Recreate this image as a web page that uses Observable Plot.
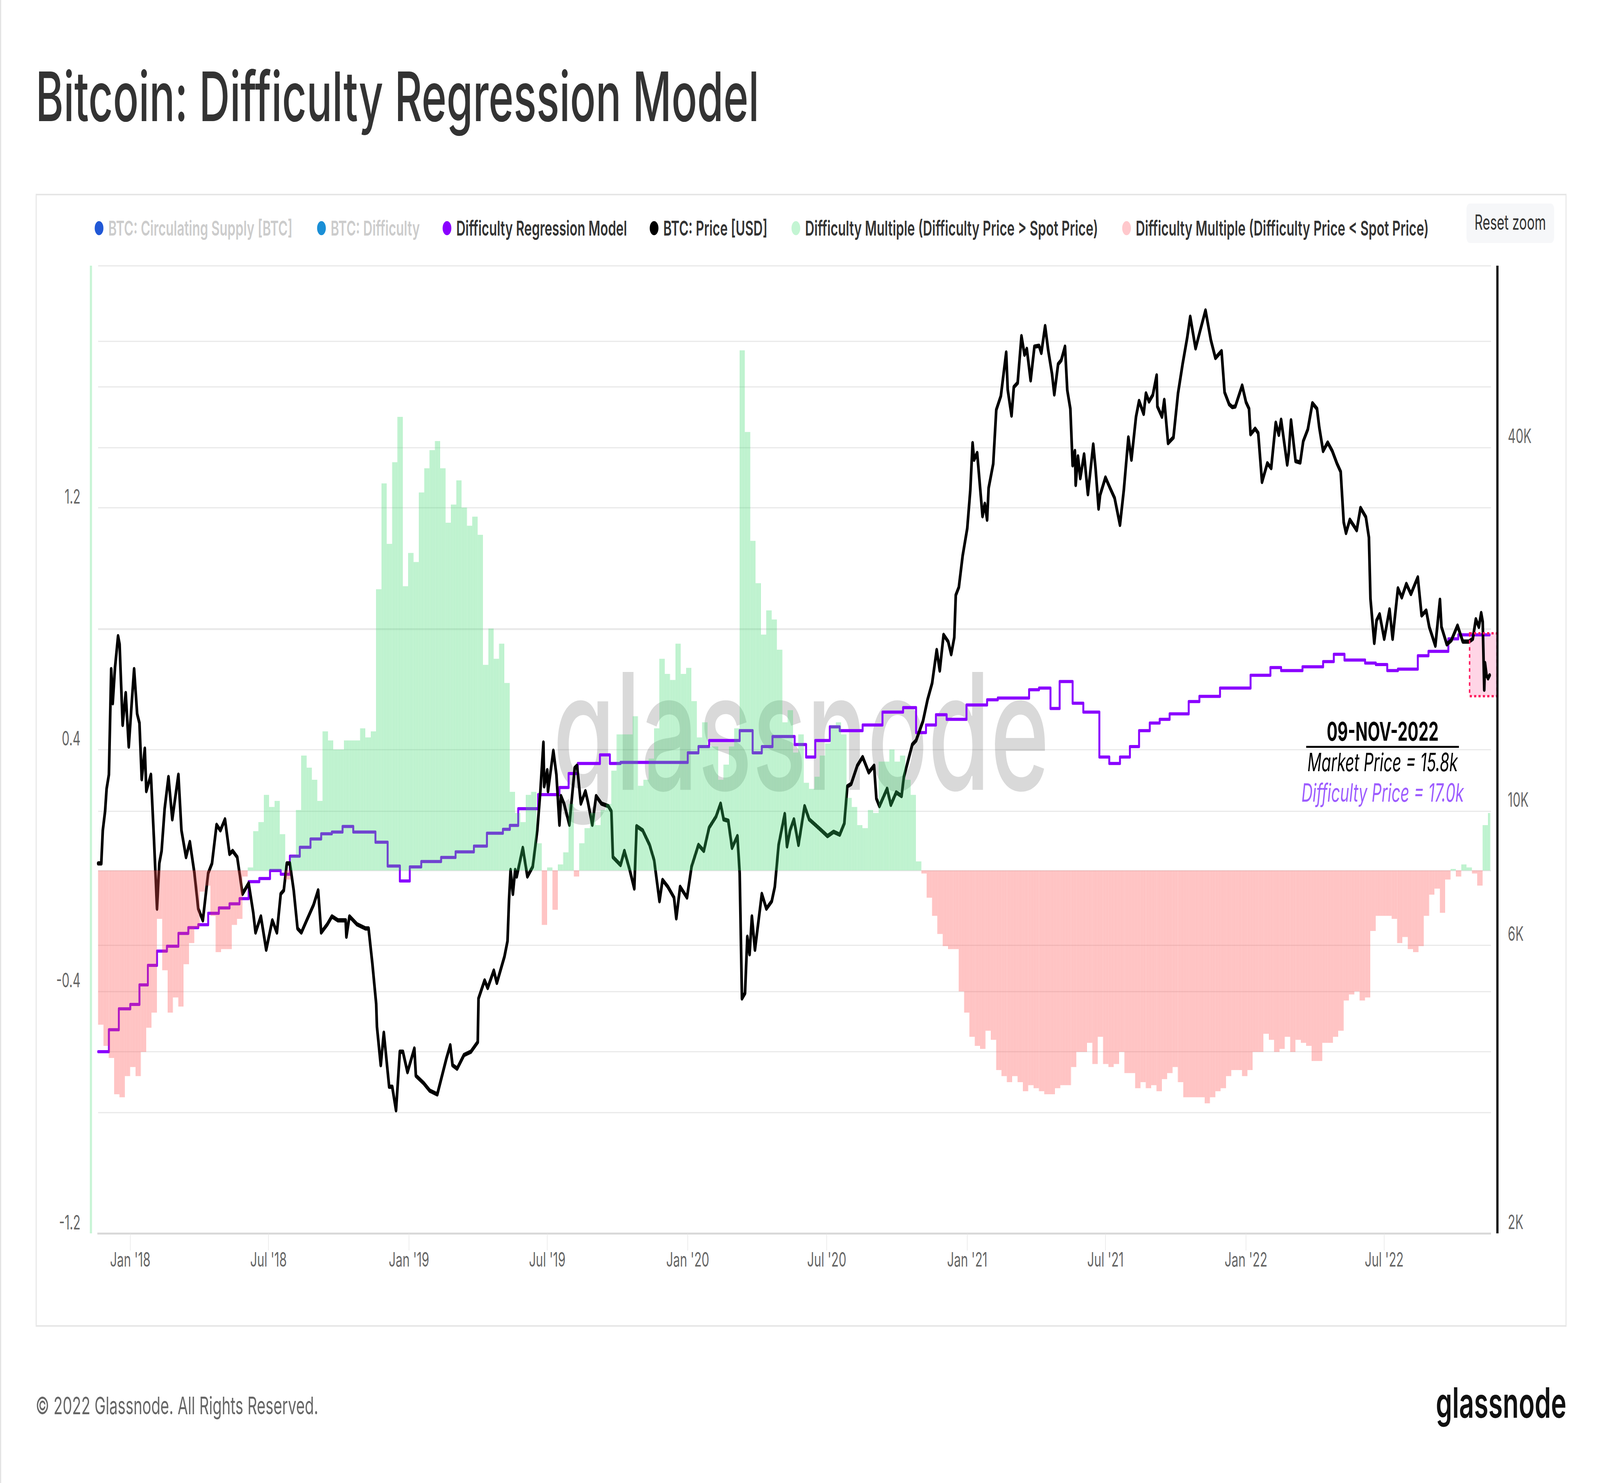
<!DOCTYPE html>
<html>
<head>
<meta charset="utf-8">
<script src="https://cdn.jsdelivr.net/npm/d3@7"></script>
<script src="https://cdn.jsdelivr.net/npm/@observablehq/plot@0.6"></script>
<style>
  html, body { margin:0; padding:0; background:#fff; overflow:hidden; }
  #root { position:absolute; left:0; top:0; width:6590px; height:3796px; transform-origin:0 0; overflow:hidden; background:#fff; font-family: Inter, "Noto Sans", sans-serif; }
  .abs { position:absolute; }
</style>
</head>
<body>
<div id="root">
<div class="abs" style="left:0;top:0;width:5px;height:3796px;background:#e4e4e4"></div>
<div class="abs" style="left:147px;top:496px;width:6305px;height:2900px;border:4px solid #e6e6e6;box-sizing:border-box"></div>
<div class="abs" style="left:6040px;top:521px;width:361px;height:101px;background:#f6f7f9;border-radius:14px"></div>
<div class="abs" style="left:370px;top:680px;width:9px;height:2477px;background:#c8f4d6"></div>
</div>
<script>
// ---------------- DATA ----------------
const titleText = "Bitcoin: Difficulty Regression Model";
const legendLabels = [
  "BTC: Circulating Supply [BTC]",
  "BTC: Difficulty",
  "Difficulty Regression Model",
  "BTC: Price [USD]",
  "Difficulty Multiple (Difficulty Price > Spot Price)",
  "Difficulty Multiple (Difficulty Price < Spot Price)"
];
const legendColors = ["#2158d6", "#1a8fd6", "#8a00ff", "#000000", "#c3f5d3", "#ffc8cc"];
const legendHidden = [true, true, false, false, false, false];
const xTickDates = ["2018-01-01","2018-07-01","2019-01-01","2019-07-01","2020-01-01","2020-07-01","2021-01-01","2021-07-01","2022-01-01","2022-07-01"];
const xTickLabels = ["Jan '18","Jul '18","Jan '19","Jul '19","Jan '20","Jul '20","Jan '21","Jul '21","Jan '22","Jul '22"];
const leftTickValues = [-1.2, -0.4, 0.4, 1.2];
const leftGridValues = [-0.8, -0.4, 0, 0.4, 0.8, 1.2, 1.6, 2.0];
const rightTickValues = [2000, 6000, 10000, 40000];
const rightTickLabels = ["2K", "6K", "10K", "40K"];
const rightGridValues = [4000, 6000, 10000, 20000, 40000, 60000];
const annotationTitle = "09-NOV-2022";
const annotationMarket = "Market Price = 15.8k";
const annotationDifficulty = "Difficulty Price = 17.0k";
const highlightBox = [{start: "2022-10-21", end: "2022-11-26", low: 15500, high: 19700}];

// BTC price [USD]
const btcPrice = [
["2017-11-20",8200],["2017-11-24",8200],["2017-11-26",9300],["2017-11-29",10000],["2017-12-01",10900],["2017-12-04",11500],["2017-12-07",17200],["2017-12-09",15100],["2017-12-12",17300],["2017-12-16",19500],["2017-12-18",18900],["2017-12-22",13900],["2017-12-26",15700],["2017-12-30",12800],
["2018-01-03",15200],["2018-01-06",17200],["2018-01-10",14500],["2018-01-13",14000],["2018-01-16",11300],["2018-01-20",12700],["2018-01-22",10800],["2018-01-28",11500],["2018-02-01",9000],["2018-02-05",6900],["2018-02-08",8200],["2018-02-11",8600],["2018-02-15",10100],["2018-02-20",11400],["2018-02-25",9700],["2018-03-05",11500],["2018-03-09",9300],["2018-03-15",8400],["2018-03-20",8900],["2018-03-26",7900],["2018-03-31",6900],["2018-04-06",6600],["2018-04-13",7900],["2018-04-18",8200],["2018-04-24",9500],["2018-04-29",9300],["2018-05-05",9700],["2018-05-11",8500],["2018-05-15",8600],["2018-05-21",8400],["2018-05-28",7300],["2018-06-05",7600],["2018-06-11",6800],["2018-06-14",6300],["2018-06-21",6700],["2018-06-28",5900],["2018-07-06",6600],["2018-07-12",6300],["2018-07-17",7300],["2018-07-21",7400],["2018-07-25",8200],["2018-07-29",8200],["2018-08-03",7400],["2018-08-08",6400],["2018-08-13",6300],["2018-08-20",6600],["2018-08-29",7000],["2018-09-04",7400],["2018-09-08",6300],["2018-09-16",6500],["2018-09-22",6700],["2018-09-30",6600],["2018-10-10",6600],["2018-10-11",6200],["2018-10-15",6700],["2018-10-25",6500],["2018-11-05",6400],["2018-11-09",6400],["2018-11-14",5600],["2018-11-19",4800],["2018-11-20",4400],["2018-11-25",3800],["2018-11-29",4300],["2018-12-06",3500],["2018-12-10",3500],["2018-12-15",3200],["2018-12-20",4000],["2018-12-24",4000],["2018-12-30",3700],
["2019-01-08",4050],["2019-01-10",3650],["2019-01-20",3550],["2019-01-28",3450],["2019-02-07",3400],["2019-02-12",3600],["2019-02-19",3900],["2019-02-24",4100],["2019-02-27",3800],["2019-03-05",3750],["2019-03-14",3950],["2019-03-23",4000],["2019-04-01",4150],["2019-04-02",4900],["2019-04-10",5250],["2019-04-14",5100],["2019-04-22",5450],["2019-04-26",5200],["2019-05-06",5750],["2019-05-10",6100],["2019-05-12",7150],["2019-05-14",8000],["2019-05-17",7300],["2019-05-20",8000],["2019-05-22",7800],["2019-05-30",8700],["2019-06-05",7800],["2019-06-12",8100],["2019-06-18",9300],["2019-06-22",10800],["2019-06-26",13000],["2019-06-27",11000],["2019-07-01",11700],["2019-07-02",10800],["2019-07-09",12600],["2019-07-13",11500],["2019-07-17",9500],["2019-07-19",10600],["2019-07-23",10300],["2019-07-30",9500],["2019-08-06",11800],["2019-08-09",11900],["2019-08-14",10300],["2019-08-20",10800],["2019-08-23",10400],["2019-08-29",9500],["2019-09-03",10600],["2019-09-10",10300],["2019-09-19",10200],["2019-09-23",10000],["2019-09-25",8400],["2019-10-05",8150],["2019-10-10",8600],["2019-10-17",8000],["2019-10-23",7450],["2019-10-26",9450],["2019-11-03",9300],["2019-11-12",8800],["2019-11-18",8300],["2019-11-25",7100],["2019-11-29",7700],["2019-12-06",7500],["2019-12-14",7200],["2019-12-17",6650],["2019-12-22",7500],["2019-12-31",7200],
["2020-01-06",8100],["2020-01-15",8800],["2020-01-22",8600],["2020-01-29",9400],["2020-02-07",9800],["2020-02-13",10300],["2020-02-17",9700],["2020-02-23",9650],["2020-02-28",8700],["2020-03-06",9100],["2020-03-09",7900],["2020-03-12",4900],["2020-03-16",5000],["2020-03-19",6200],["2020-03-22",5800],["2020-03-25",6700],["2020-03-29",5900],["2020-04-07",7300],["2020-04-13",6900],["2020-04-20",7100],["2020-04-24",7500],["2020-04-29",8800],["2020-05-07",9900],["2020-05-10",8750],["2020-05-14",9300],["2020-05-19",9700],["2020-05-25",8800],["2020-06-02",10200],["2020-06-08",9700],["2020-06-16",9500],["2020-06-24",9300],["2020-07-02",9100],["2020-07-10",9250],["2020-07-18",9150],["2020-07-24",9550],["2020-07-28",11000],["2020-08-02",11100],["2020-08-10",11900],["2020-08-17",12300],["2020-08-25",11600],["2020-09-01",11900],["2020-09-04",10500],["2020-09-08",10200],["2020-09-18",10900],["2020-09-23",10250],["2020-09-30",10750],["2020-10-07",10600],["2020-10-10",11400],["2020-10-21",12900],["2020-10-26",13100],["2020-11-04",14100],["2020-11-10",15300],["2020-11-16",16300],["2020-11-22",18500],["2020-11-26",17100],["2020-12-01",19600],["2020-12-07",19100],["2020-12-11",18200],["2020-12-15",19400],["2020-12-17",22800],["2020-12-21",23500],["2020-12-26",26500],
["2021-01-01",29400],["2021-01-05",34000],["2021-01-08",40700],["2021-01-10",38200],["2021-01-14",39200],["2021-01-21",30800],["2021-01-24",32300],["2021-01-27",30400],["2021-01-29",34300],["2021-02-04",37600],["2021-02-08",46200],["2021-02-14",48700],["2021-02-21",57500],["2021-02-23",49900],["2021-02-28",45200],["2021-03-03",50400],["2021-03-08",51200],["2021-03-13",61200],["2021-03-17",57000],["2021-03-20",58300],["2021-03-25",51700],["2021-03-30",58800],["2021-04-05",59000],["2021-04-08",57400],["2021-04-13",63600],["2021-04-17",58000],["2021-04-22",53000],["2021-04-25",49000],["2021-04-30",55000],["2021-05-04",55800],["2021-05-09",58800],["2021-05-12",49800],["2021-05-16",46400],["2021-05-19",37400],["2021-05-22",39500],["2021-05-23",34700],["2021-05-26",38700],["2021-05-29",35600],["2021-06-03",39000],["2021-06-08",33500],["2021-06-15",40500],["2021-06-18",37000],["2021-06-22",31700],["2021-06-24",33400],["2021-07-01",35700],["2021-07-07",34300],["2021-07-13",33000],["2021-07-20",29800],["2021-07-25",34000],["2021-07-31",41600],["2021-08-04",38200],["2021-08-10",45000],["2021-08-14",47800],["2021-08-20",45500],["2021-08-23",49200],["2021-08-27",47700],["2021-09-01",48900],["2021-09-06",52700],["2021-09-07",46800],["2021-09-13",45000],["2021-09-16",48000],["2021-09-21",40700],["2021-09-28",41600],["2021-10-04",49200],["2021-10-10",55000],["2021-10-16",60800],["2021-10-20",65900],["2021-10-27",58400],["2021-11-02",62500],["2021-11-09",67500],["2021-11-16",60300],["2021-11-22",56300],["2021-11-30",57800],["2021-12-04",49400],["2021-12-10",47200],["2021-12-14",46700],["2021-12-18",46800],["2021-12-27",50700],
["2022-01-01",47600],["2022-01-05",46400],["2022-01-07",42100],["2022-01-13",43000],["2022-01-17",42300],["2022-01-22",35100],["2022-01-29",37700],["2022-02-03",37000],["2022-02-09",44000],["2022-02-13",42000],["2022-02-16",44500],["2022-02-24",37500],["2022-02-26",39200],["2022-03-01",44400],["2022-03-07",38000],["2022-03-13",37800],["2022-03-17",41000],["2022-03-23",42900],["2022-03-29",47400],["2022-04-04",46400],["2022-04-07",43200],["2022-04-12",39500],["2022-04-18",40800],["2022-04-24",39500],["2022-04-30",37700],["2022-05-05",36500],["2022-05-09",30100],["2022-05-12",28900],["2022-05-17",30400],["2022-05-26",29200],["2022-05-31",31800],["2022-06-07",30700],["2022-06-11",28400],["2022-06-13",22500],["2022-06-18",19000],["2022-06-21",20700],["2022-06-25",21200],["2022-07-01",19300],["2022-07-08",21600],["2022-07-12",19300],["2022-07-19",23400],["2022-07-24",22600],["2022-07-30",23800],["2022-08-05",22900],["2022-08-11",23900],["2022-08-14",24400],["2022-08-19",21100],["2022-08-25",21500],["2022-08-29",20200],["2022-09-06",18800],["2022-09-12",22400],["2022-09-14",20200],["2022-09-21",18900],["2022-09-27",19200],["2022-10-05",20300],["2022-10-12",19100],["2022-10-20",19100],["2022-10-25",19300],["2022-10-29",20800],["2022-11-02",20200],["2022-11-05",21300],["2022-11-07",20600],["2022-11-09",15900],["2022-11-10",17600],["2022-11-12",16800],["2022-11-14",16600],["2022-11-16",16800]
];

// Difficulty Regression Model price (step changes)
const modelSteps = [
["2017-11-20",4000],["2017-12-04",4350],["2017-12-17",4710],["2018-01-01",4790],["2018-01-13",5160],["2018-01-24",5560],["2018-02-05",5870],["2018-02-18",5980],["2018-03-05",6280],["2018-03-18",6420],["2018-03-31",6490],["2018-04-13",6780],["2018-04-27",6920],["2018-05-11",7030],["2018-05-24",7170],["2018-06-05",7650],["2018-06-19",7740],["2018-07-03",7980],["2018-07-17",7870],["2018-07-29",8430],["2018-08-11",8720],["2018-08-25",9000],["2018-09-08",9180],["2018-09-22",9240],["2018-10-06",9440],["2018-10-20",9240],["2018-11-18",8890],["2018-12-04",8120],["2018-12-20",7670],
["2019-01-02",8090],["2019-01-17",8260],["2019-02-12",8390],["2019-03-03",8570],["2019-03-27",8760],["2019-04-13",9200],["2019-05-04",9340],["2019-05-13",9480],["2019-05-24",10100],["2019-06-19",10660],["2019-07-17",10950],["2019-07-29",11550],["2019-08-10",12000],["2019-09-08",12400],["2019-09-21",12000],["2019-10-05",12050],
["2020-01-01",12500],["2020-01-15",12800],["2020-01-29",13100],["2020-03-09",13600],["2020-03-26",12500],["2020-04-07",12800],["2020-04-21",13300],["2020-05-20",12900],["2020-06-04",12300],["2020-06-16",13100],["2020-07-05",13800],["2020-07-18",13600],["2020-08-17",13900],["2020-09-12",14600],["2020-10-09",14850],["2020-10-26",13500],["2020-11-08",13900],["2020-11-21",14450],["2020-12-05",14200],["2020-12-31",15000],
["2021-01-27",15300],["2021-02-10",15400],["2021-03-23",15900],["2021-04-05",16000],["2021-04-20",14800],["2021-05-02",16400],["2021-05-19",15100],["2021-06-02",14600],["2021-06-23",12300],["2021-07-06",12000],["2021-07-20",12300],["2021-08-02",12800],["2021-08-14",13600],["2021-08-28",14000],["2021-09-10",14200],["2021-09-23",14500],["2021-10-18",15200],["2021-11-01",15500],["2021-11-28",16000],
["2022-01-07",16800],["2022-02-02",17300],["2022-02-16",17100],["2022-03-16",17350],["2022-04-12",17700],["2022-04-26",18200],["2022-05-10",17800],["2022-06-06",17600],["2022-06-20",17500],["2022-07-05",17100],["2022-07-19",17200],["2022-08-14",18100],["2022-08-28",18400],["2022-09-23",19300],["2022-10-06",19600],["2022-11-16",19600]
];

// Difficulty Multiple, one value per week starting Monday 2017-11-20
const multipleStart = "2017-11-20";
const multipleWeekly = [
-0.51,-0.58,-0.62,-0.74,-0.75,-0.68,
-0.65,-0.68,-0.60,-0.52,-0.47,-0.16,-0.33,-0.47,-0.42,-0.45,-0.31,-0.24,-0.19,-0.07,-0.05,-0.15,-0.27,-0.26,-0.26,-0.18,-0.16,-0.02,0.01,0.13,0.16,0.25,0.21,0.23,0.12,-0.03,0.05,0.20,0.38,0.34,0.30,0.23,0.46,0.43,0.40,0.40,0.43,0.43,0.43,0.47,0.44,0.46,0.93,1.28,1.08,1.35,1.50,0.94,1.05,
1.02,1.25,1.33,1.39,1.42,1.33,1.15,1.21,1.29,1.20,1.14,1.17,1.11,0.68,0.80,0.70,0.75,0.62,0.26,0.19,0.16,0.25,0.26,0.09,-0.18,0.01,-0.13,0.02,0.06,0.22,-0.02,0.09,0.14,0.19,0.15,0.20,0.22,0.33,0.45,0.45,0.45,0.51,0.28,0.30,0.37,0.47,0.70,0.65,0.63,0.75,0.65,0.67,
0.56,0.44,0.49,0.41,0.41,0.30,0.35,0.41,0.47,1.72,1.45,1.09,0.95,0.78,0.86,0.83,0.73,0.49,0.53,0.39,0.45,0.29,0.27,0.31,0.38,0.42,0.48,0.49,0.45,0.24,0.21,0.15,0.14,0.20,0.19,0.36,0.36,0.40,0.36,0.38,0.30,0.25,0.03,-0.01,-0.09,-0.15,-0.21,-0.25,-0.26,-0.26,-0.40,-0.47,
-0.55,-0.58,-0.59,-0.53,-0.56,-0.66,-0.68,-0.70,-0.68,-0.70,-0.73,-0.71,-0.72,-0.73,-0.74,-0.74,-0.72,-0.71,-0.71,-0.65,-0.60,-0.60,-0.57,-0.64,-0.55,-0.64,-0.65,-0.64,-0.60,-0.67,-0.67,-0.72,-0.70,-0.72,-0.71,-0.73,-0.69,-0.67,-0.65,-0.70,-0.75,-0.75,-0.75,-0.75,-0.77,-0.75,-0.73,-0.72,-0.68,-0.66,-0.66,-0.68,
-0.66,-0.60,-0.60,-0.54,-0.56,-0.60,-0.59,-0.55,-0.60,-0.56,-0.57,-0.58,-0.63,-0.63,-0.57,-0.57,-0.55,-0.53,-0.43,-0.41,-0.40,-0.43,-0.42,-0.20,-0.15,-0.15,-0.15,-0.16,-0.24,-0.22,-0.26,-0.27,-0.25,-0.15,-0.08,-0.06,-0.14,-0.03,0.005,-0.02,0.02,0.01,-0.01,-0.05,0.15,0.19
];
const copyrightText = "© 2022 Glassnode. All Rights Reserved.";
const logoText = "glassnode";

// ---------------- LAYOUT SCALE (fit the 6590x3796 design to the viewport) ----------------
const root = document.getElementById("root");
const SX = window.innerWidth / 6590, SY = window.innerHeight / 3796;
root.style.transform = `scale(${SX}, ${SY})`;

// ---------------- CHART ----------------
const W = 6590, H = 2750, TOP = 600;
const frame = {width: W, height: H, marginTop: 80, marginBottom: 193, marginLeft: 404, marginRight: 449};
const xDomain = [new Date("2017-11-20"), new Date("2022-11-18")];
const font = "Inter, 'Noto Sans', sans-serif";
const x = {type: "utc", domain: xDomain, axis: null};

const priceData = btcPrice.map(([d, v]) => ({date: new Date(d), value: v}));
const modelData = modelSteps.map(([d, v]) => ({date: new Date(d), value: v}));
const barEnd = new Date("2022-11-17");
const bars = multipleWeekly.map((v, i) => {
  const x1 = d3.utcDay.offset(new Date(multipleStart), 7 * i);
  const x2 = d3.utcDay.offset(x1, 7);
  return {x1, x2: x2 > barEnd ? barEnd : x2, y1: 0, y2: v};
});
const xTicks = xTickDates.map((d, i) => ({date: new Date(d), label: xTickLabels[i]}));
const rightTicks = rightTickValues.map((v, i) => ({v, label: rightTickLabels[i]}));
const boxData = highlightBox.map(b => ({x1: new Date(b.start), x2: new Date(b.end), y1: b.low, y2: b.high}));

function mount(svg) {
  Object.assign(svg.style, {position: "absolute", left: "0px", top: TOP + "px", width: W + "px", height: H + "px", background: "transparent", maxWidth: "none", overflow: "visible", fontFamily: font});
  root.appendChild(svg);
  return svg;
}

// Layer 1: left-axis grid, labels, watermark
mount(Plot.plot({
  ...frame, x,
  y: {type: "linear", domain: [-1.2, 2.0], axis: null},
  marks: [
    Plot.ruleY(leftGridValues, {stroke: "#e9e9e9", strokeWidth: 3}),
    Plot.text([logoText], {text: d => d, frameAnchor: "middle", dx: 27, dy: -30, fontSize: 415, fontWeight: 500, fontFamily: font, fill: "#000", fillOpacity: 0.15}),
    Plot.text(leftTickValues, {y: d => d, text: d => d.toFixed(1), frameAnchor: "left", textAnchor: "end", dx: -73, dy: -27, fill: "#666", fontSize: 50, fontFamily: font})
  ]
}));

// Layer 2: price axis (log), lines, annotations, x axis
mount(Plot.plot({
  ...frame, x,
  y: {type: "log", domain: [2000, 80000], axis: null},
  marks: [
    Plot.ruleY(rightGridValues, {stroke: "#e9e9e9", strokeWidth: 3}),
    Plot.rect(boxData, {x1: "x1", x2: "x2", y1: "y1", y2: "y2", fill: "#ffd5e6"}),
    Plot.line(modelData, {x: "date", y: "value", curve: "step-after", stroke: "#8a00ff", strokeWidth: 8}),
    Plot.line(priceData, {x: "date", y: "value", stroke: "#000", strokeWidth: 11, strokeLinejoin: "round"}),
    Plot.rect(boxData, {x1: "x1", x2: "x2", y1: "y1", y2: "y2", fill: "none", stroke: "#ff1a5e", strokeWidth: 6, strokeDasharray: "9,9"}),
    Plot.ruleY([2000], {stroke: "#d9d9d9", strokeWidth: 5, insetLeft: -3}),
    Plot.ruleX(xTicks, {x: "date", stroke: "#e3e3e3", strokeWidth: 2, insetTop: 2477, insetBottom: -44}),
    Plot.text(xTicks, {x: "date", text: "label", frameAnchor: "bottom", dy: 84, fill: "#666", fontSize: 50, fontFamily: font}),
    Plot.text(rightTicks, {y: "v", text: "label", frameAnchor: "right", textAnchor: "start", dx: 69, dy: -28, fill: "#666", fontSize: 50, fontFamily: font}),
    Plot.ruleX([xDomain[1]], {dx: 26, stroke: "#000", strokeWidth: 9}),
    Plot.text([annotationTitle], {text: d => d, x: () => new Date("2022-06-29"), y: () => 13500, fontSize: 66, fontWeight: 700, fill: "#000", fontFamily: font}),
    Plot.ruleY([12785], {x1: () => new Date("2022-03-21"), x2: () => new Date("2022-10-07"), stroke: "#000", strokeWidth: 5}),
    Plot.text([annotationMarket], {text: d => d, x: () => new Date("2022-06-29"), y: () => 12010, fontSize: 64, fontStyle: "italic", fill: "#000", fontFamily: font}),
    Plot.text([annotationDifficulty], {text: d => d, x: () => new Date("2022-06-29"), y: () => 10690, fontSize: 64, fontStyle: "italic", fill: "#9d5cff", fontFamily: font})
  ]
}));

// Layer 3: difficulty multiple bars (semi-transparent, on top)
const barSvg = mount(Plot.plot({
  ...frame, x,
  y: {type: "linear", domain: [-1.2, 2.0], axis: null},
  marks: [
    Plot.rect(bars.filter(d => d.y2 >= 0), {x1: "x1", x2: "x2", y1: "y1", y2: "y2", fill: "url(#greenStripes)"}),
    Plot.rect(bars.filter(d => d.y2 < 0), {x1: "x1", x2: "x2", y1: "y1", y2: "y2", fill: "url(#redStripes)"})
  ]
}));
const defs = d3.select(barSvg).insert("defs", ":first-child");
function stripes(id, rgb, base, extra) {
  const p = defs.append("pattern").attr("id", id).attr("patternUnits", "userSpaceOnUse").attr("width", 6.3).attr("height", 20);
  p.append("rect").attr("width", 6.3).attr("height", 20).attr("fill", rgb).attr("fill-opacity", base);
  p.append("rect").attr("width", 2.2).attr("height", 20).attr("fill", rgb).attr("fill-opacity", extra);
}
stripes("greenStripes", "rgb(52,214,104)", 0.26, 0.22);
stripes("redStripes", "rgb(255,77,77)", 0.28, 0.22);

// ---------------- HTML TEXT ----------------
function place(text, o) {
  const el = document.createElement("div");
  el.textContent = text;
  Object.assign(el.style, {position: "absolute", whiteSpace: "nowrap", lineHeight: "1", fontFamily: font,
    fontWeight: o.weight || 400, color: o.color || "#333", fontSize: o.size + "px", left: "0px", top: "0px"});
  root.appendChild(el);
  let fs = o.size;
  if (o.width) { const w = el.offsetWidth; fs = o.size * o.width / w; el.style.fontSize = fs + "px"; }
  const w2 = el.offsetWidth;
  el.style.top = (o.yc - 0.5 * fs) + "px";
  el.style.left = (o.anchor === "end" ? o.x - w2 : o.anchor === "middle" ? o.x - w2 / 2 : o.x) + "px";
  return {el, fs};
}
place(titleText, {x: 147, yc: 247, width: 2980, size: 182, weight: 500, color: "#333"});

// legend
const probe = place(legendLabels[4], {x: 0, yc: -500, width: 1207, size: 52, weight: 600});
const legendFs = probe.fs;
probe.el.remove();
const legendTextX = [446, 1362, 1879, 2732, 3316, 4678];
const legendDotX = [408, 1324, 1841, 2694, 3278, 4640];
legendLabels.forEach((t, i) => {
  place(t, {x: legendTextX[i], yc: 584, size: legendFs, weight: 600, color: legendHidden[i] ? "#cccccc" : "#333"});
  const dot = document.createElement("div");
  Object.assign(dot.style, {position: "absolute", left: (legendDotX[i] - 18) + "px", top: (584 - 18) + "px", width: "36px", height: "36px", borderRadius: "50%", background: legendColors[i]});
  root.appendChild(dot);
});
place("Reset zoom", {x: 6220, yc: 570, width: 294, size: 52, weight: 400, color: "#333", anchor: "middle"});
place(copyrightText, {x: 147, yc: 3598, width: 1164, size: 64, weight: 400, color: "#666"});
place(logoText, {x: 6452, yc: 3591, width: 538, size: 115, weight: 600, color: "#111", anchor: "end"});
</script>
</body>
</html>
